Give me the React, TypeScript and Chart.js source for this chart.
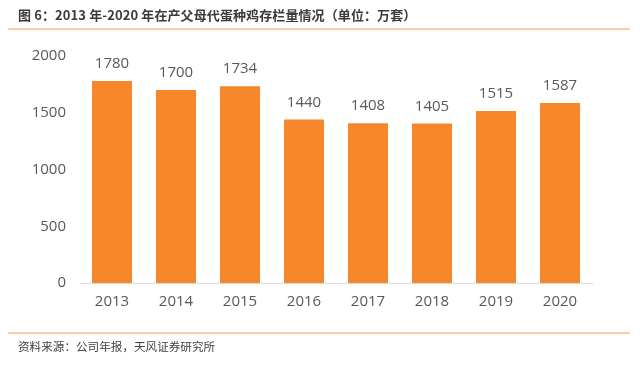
import React, { useEffect, useRef } from "react";
import { Chart, registerables } from "chart.js";

Chart.register(...registerables);

const categories = ["2013", "2014", "2015", "2016", "2017", "2018", "2019", "2020"];
const values = [1780, 1700, 1734, 1440, 1408, 1405, 1515, 1587];
const yTicks = [0, 500, 1000, 1500, 2000];
const titleText = "图 6：2013 年-2020 年在产父母代蛋种鸡存栏量情况（单位：万套）";
const sourceText = "资料来源：公司年报，天风证券研究所";

const BAR_COLOR = "#F5872A";
const TEXT_COLOR = "#595959";
const FONT = "'Open Sans', 'Noto Sans', sans-serif";

const valueLabels = {
  id: "valueLabels",
  afterDatasetsDraw(chart: any) {
    const ctx = chart.ctx;
    const meta = chart.getDatasetMeta(0);
    ctx.save();
    ctx.fillStyle = TEXT_COLOR;
    ctx.font = `15px ${FONT}`;
    ctx.textAlign = "center";
    ctx.textBaseline = "alphabetic";
    meta.data.forEach((bar: any, i: number) => {
      ctx.fillText(String(values[i]), bar.x, bar.y - 13);
    });
    ctx.restore();
  },
};

export default function App() {
  const ref = useRef<HTMLCanvasElement | null>(null);
  useEffect(() => {
    if (!ref.current) return;
    const chart = new Chart(ref.current, {
      type: "bar",
      data: {
        labels: categories,
        datasets: [
          {
            data: values,
            backgroundColor: BAR_COLOR,
            categoryPercentage: 1,
            barPercentage: 0.625,
          },
        ],
      },
      options: {
        animation: false,
        responsive: false,
        maintainAspectRatio: false,
        layout: { padding: { top: 56, right: 48, bottom: 40, left: 0 } },
        plugins: { legend: { display: false }, tooltip: { enabled: false }, title: { display: false } },
        scales: {
          x: {
            grid: { display: false, drawTicks: false },
            border: { display: true, color: "#D9D9D9", width: 1 },
            ticks: { color: TEXT_COLOR, font: { size: 15, family: FONT }, padding: 10 },
            afterFit(scale: any) {
              scale.height = 51;
            },
          },
          y: {
            min: 0,
            max: 2000,
            grid: { display: false, drawTicks: false },
            border: { display: false },
            afterBuildTicks(scale: any) {
              scale.ticks = yTicks.map((v) => ({ value: v }));
            },
            ticks: {
              color: TEXT_COLOR,
              font: { size: 15, family: FONT },
              padding: 14,
              callback: (v: any) => String(v),
            },
            afterFit(scale: any) {
              scale.width = 80;
            },
          },
        },
      },
      plugins: [valueLabels],
    });
    return () => chart.destroy();
  }, []);

  return (
    <div style={{ position: "absolute", left: 0, top: 0, width: 640, height: 374, background: "#fff", overflow: "hidden" }}>
      <canvas ref={ref} width={640} height={374} style={{ position: "absolute", left: 0, top: 0, width: 640, height: 374 }} />
      <div
        style={{
          position: "absolute",
          left: 18,
          top: 6,
          fontFamily: "'Noto Sans CJK SC', sans-serif",
          fontWeight: 700,
          fontSize: 13,
          letterSpacing: "0.1px",
          lineHeight: "18px",
          color: "#3A3A3A",
          whiteSpace: "pre",
        }}
      >
        {titleText}
      </div>
      <div style={{ position: "absolute", left: 8, top: 28, width: 622, height: 2, background: "#F9CFA6" }} />
      <div style={{ position: "absolute", left: 8, top: 332, width: 622, height: 2, background: "#F9CFA6" }} />
      <div
        style={{
          position: "absolute",
          left: 18,
          top: 338,
          fontFamily: "'Noto Sans CJK SC', sans-serif",
          fontSize: 11.6,
          lineHeight: "16px",
          color: "#404040",
          whiteSpace: "nowrap",
        }}
      >
        {sourceText}
      </div>
    </div>
  );
}
